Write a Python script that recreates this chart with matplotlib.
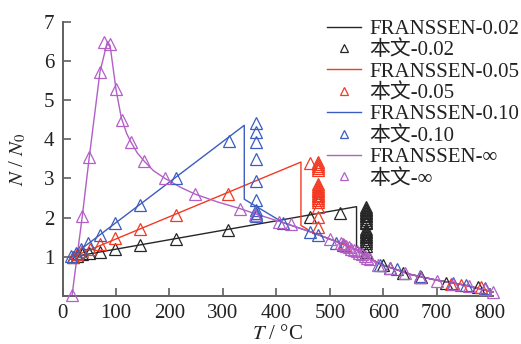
import numpy as np
import matplotlib
matplotlib.use("Agg")
import matplotlib.pyplot as plt
from matplotlib.lines import Line2D

plt.rcParams['font.family'] = ['Liberation Serif', 'Noto Sans CJK SC', 'DejaVu Sans']
plt.rcParams['mathtext.fontset'] = 'stix'

# colours of the four series
c_k = '#262626'
c_r = '#f23a22'
c_b = '#3b5cc0'
c_p = '#b25fc6'

# common decreasing branch shared by all FRANSSEN curves
tail_T = [413, 463, 506, 530, 550, 575, 600, 625, 650, 700, 750, 805]
tail_N = [1.87, 1.64, 1.42, 1.30, 1.18, 0.95, 0.78, 0.67, 0.55, 0.40, 0.28, 0.10]

# FRANSSEN lines (rise, drop, merge)
k_line_T = [20, 550, 550] + tail_T[5:]
k_line_N = [1.0, 2.28, 1.27] + tail_N[5:]
r_line_T = [20, 446, 446, 456] + tail_T[1:]
r_line_N = [1.0, 3.42, 1.80, 1.72] + tail_N[1:]
b_line_T = [16, 340, 340] + tail_T
b_line_N = [1.0, 4.36, 2.47] + tail_N
p_line_T = [18, 37, 50, 70, 84, 89, 100, 110, 120, 128, 140, 153, 170, 192, 220, 248,
            290, 332, 360] + tail_T
p_line_N = [0.03, 2.04, 3.54, 5.72, 6.50, 6.40, 5.28, 4.55, 4.15, 3.93, 3.65, 3.44, 3.20,
            3.00, 2.78, 2.60, 2.40, 2.23, 2.10] + tail_N

# "本文" points: rising branch, vertical column, tail
k_rise_T = [20, 28, 37, 50, 70, 99, 145, 212, 310, 462, 519]
k_rise_N = [1.0, 1.03, 1.07, 1.10, 1.13, 1.20, 1.31, 1.46, 1.68, 2.02, 2.11]
k_col_T = 567
k_col_N = [2.27, 2.23, 2.19, 2.15, 2.11, 2.07, 2.03, 1.99, 1.95, 1.90, 1.85, 1.70, 1.66,
           1.62, 1.58, 1.54, 1.50, 1.45, 1.40, 1.34, 1.27, 1.12]
k_tail_T = [600, 612, 637, 670, 718, 778]
k_tail_N = [0.80, 0.70, 0.58, 0.47, 0.33, 0.22]

r_rise_T = [20, 28, 37, 51, 70, 99, 145, 212, 310, 462]
r_rise_N = [1.0, 1.08, 1.15, 1.21, 1.32, 1.48, 1.72, 2.06, 2.60, 3.39]
r_col_T = 478
r_col_N = [3.42, 3.38, 3.33, 3.28, 3.22, 2.85, 2.80, 2.76, 2.71, 2.67, 2.63, 2.59, 2.55,
           2.50, 2.45, 2.40, 2.27, 2.02, 1.76]
r_tail_T = [526, 668, 727, 746, 782]
r_tail_N = [1.30, 0.49, 0.31, 0.28, 0.22]

b_rise_T = [16, 25, 35, 48, 70, 99, 145, 212, 311]
b_rise_N = [1.02, 1.10, 1.21, 1.34, 1.55, 1.85, 2.32, 3.00, 3.97]
b_col_T = 362
b_col_N = [4.42, 4.20, 3.94, 3.49, 2.93, 2.45, 2.19, 2.12, 2.07, 2.03]
b_tail_T = [413, 463, 478, 512, 525, 594, 625, 668, 730, 755, 790]
b_tail_N = [1.86, 1.64, 1.56, 1.34, 1.30, 0.80, 0.68, 0.50, 0.32, 0.28, 0.20]

p_pts_T = [18, 37, 50, 70, 77, 89, 100, 111, 128, 153, 192, 248, 332, 360, 405, 428, 500,
           520, 525, 530, 535, 540, 545, 550, 555, 560, 565, 570, 575,
           590, 612, 640, 668, 700, 730, 760, 790, 805]
p_pts_N = [0.03, 2.04, 3.54, 5.72, 6.50, 6.44, 5.28, 4.50, 3.93, 3.44, 3.00, 2.60, 2.23,
           2.06, 1.88, 1.83, 1.45,
           1.35, 1.32, 1.28, 1.25, 1.21, 1.18, 1.15, 1.10, 1.06, 1.02, 0.98, 0.93,
           0.80, 0.70, 0.58, 0.48, 0.38, 0.30, 0.26, 0.18, 0.10]


def join(rise_T, rise_N, col_T, col_N, tail_T_, tail_N_):
    T = list(rise_T) + [col_T] * len(col_N) + list(tail_T_)
    N = list(rise_N) + list(col_N) + list(tail_N_)
    return T, N


k_pts_T, k_pts_N = join(k_rise_T, k_rise_N, k_col_T, k_col_N, k_tail_T, k_tail_N)
r_pts_T, r_pts_N = join(r_rise_T, r_rise_N, r_col_T, r_col_N, r_tail_T, r_tail_N)
b_pts_T, b_pts_N = join(b_rise_T, b_rise_N, b_col_T, b_col_N, b_tail_T, b_tail_N)

fig = plt.figure(figsize=(5.21, 3.44), dpi=100)
ax = fig.add_axes([0.12, 0.14, 0.826, 0.796])

ms = 8.5
series = [
    (k_line_T, k_line_N, k_pts_T, k_pts_N, c_k, '0.02'),
    (r_line_T, r_line_N, r_pts_T, r_pts_N, c_r, '0.05'),
    (b_line_T, b_line_N, b_pts_T, b_pts_N, c_b, '0.10'),
    (p_line_T, p_line_N, p_pts_T, p_pts_N, c_p, '∞'),
]
handles = []
for lt, ln, pt, pn, col, tag in series:
    ax.plot(lt, ln, color=col, lw=1.0, clip_on=False, zorder=2)
    ax.plot(pt, pn, ls='none', marker='^', ms=ms, mfc='none', mec=col, mew=0.9,
            clip_on=False, zorder=3)
    handles.append(Line2D([], [], color=col, lw=1.0, label='FRANSSEN-' + tag))
    handles.append(Line2D([], [], ls='none', marker='^', ms=5.5, mfc='none', mec=col,
                          mew=0.9, label='本文-' + tag))

ax.set_xlim(0, 805)
ax.set_ylim(0, 7)
ax.set_xticks(np.arange(0, 801, 100))
ax.set_yticks([1, 2, 3, 4, 5, 6, 7])
for s in ['top', 'right']:
    ax.spines[s].set_visible(False)
for s in ['left', 'bottom']:
    ax.spines[s].set_color('#606060')
    ax.spines[s].set_linewidth(1.4)
ax.tick_params(direction='in', length=6, width=1.2, color='#606060',
               labelsize=15, pad=6, labelcolor='#222222')
ax.set_xlabel('$T$ / °C', fontsize=15, labelpad=1, color='#222222')
ax.set_ylabel('$N$ / $N_0$', fontsize=15, labelpad=11, color='#222222')

leg = fig.legend(handles=handles, loc='upper right', bbox_to_anchor=(1.0, 0.95),
                 frameon=False, fontsize=15, labelspacing=0.08, handlelength=1.6,
                 handletextpad=0.4, borderaxespad=0.0, borderpad=0.1,
                 prop={'size': 15, 'weight': 'light'})
for t in leg.get_texts():
    t.set_color('#222222')

fig.savefig('out.png', dpi=100)
